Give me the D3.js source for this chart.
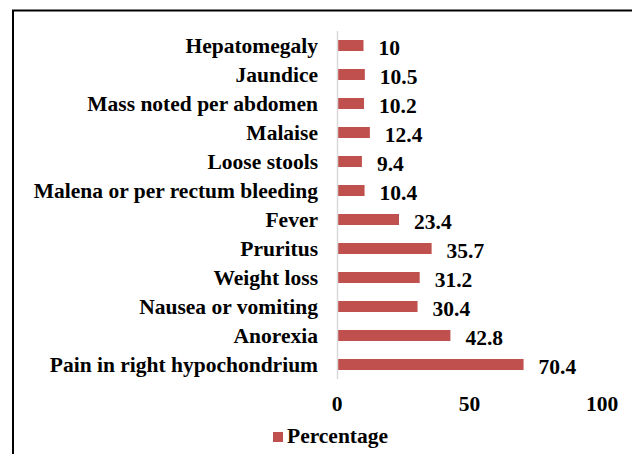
<!DOCTYPE html>
<html>
<head>
<meta charset="utf-8">
<script src="https://cdn.jsdelivr.net/npm/d3@7"></script>
<style>
  body { margin: 0; background: #fff; }
</style>
</head>
<body>
<svg id="chart"></svg>
<script>
const categories = [
  'Hepatomegaly', 'Jaundice', 'Mass noted per abdomen', 'Malaise', 'Loose stools',
  'Malena or per rectum bleeding', 'Fever', 'Pruritus', 'Weight loss',
  'Nausea or vomiting', 'Anorexia', 'Pain in right hypochondrium'
];
const percentage = [10, 10.5, 10.2, 12.4, 9.4, 10.4, 23.4, 35.7, 31.2, 30.4, 42.8, 70.4];
const xTicks = [0, 50, 100];
const seriesName = 'Percentage';

const width = 632, height = 454;
const barColor = '#c0504d';
const fontFamily = "'Liberation Serif', 'Times New Roman', Times, serif";
const fontSize = '21.5px';

const svg = d3.select('#chart')
  .attr('width', width)
  .attr('height', height);

// outer frame (top and left edges visible)
svg.append('line').attr('x1', 12).attr('x2', width).attr('y1', 10.5).attr('y2', 10.5)
  .attr('stroke', '#000').attr('stroke-width', 2);
svg.append('line').attr('x1', 13).attr('x2', 13).attr('y1', 10).attr('y2', height)
  .attr('stroke', '#000').attr('stroke-width', 2);

const x = d3.scaleLinear().domain([0, 100]).range([337, 602]);
const y = d3.scaleBand().domain(categories).range([31, 379]).paddingInner(0.62).paddingOuter(0.31);

// bars
svg.selectAll('.bar')
  .data(categories)
  .enter()
  .append('rect')
  .attr('class', 'bar')
  .attr('x', x(0))
  .attr('y', d => y(d))
  .attr('width', (d, i) => x(percentage[i]) - x(0))
  .attr('height', y.bandwidth())
  .attr('fill', barColor);

// vertical axis line
svg.append('line')
  .attr('x1', x(0) + 0.5).attr('x2', x(0) + 0.5)
  .attr('y1', 31).attr('y2', 379)
  .attr('stroke', '#d9d9d9').attr('stroke-width', 1.5);

const label = sel => sel
  .attr('font-family', fontFamily)
  .attr('font-weight', 'bold')
  .attr('fill', '#000')
  .style('font-size', fontSize);

// category labels
svg.selectAll('.cat')
  .data(categories)
  .enter()
  .append('text')
  .attr('class', 'cat')
  .attr('x', 318)
  .attr('y', d => y(d) + y.bandwidth() / 2 + 7)
  .attr('text-anchor', 'end')
  .call(label)
  .text(d => d);

// value labels
svg.selectAll('.val')
  .data(categories)
  .enter()
  .append('text')
  .attr('class', 'val')
  .attr('x', (d, i) => x(percentage[i]) + 15)
  .attr('y', d => y(d) + y.bandwidth() / 2 + 9)
  .call(label)
  .text((d, i) => percentage[i]);

// x tick labels
svg.selectAll('.tick')
  .data(xTicks)
  .enter()
  .append('text')
  .attr('class', 'tick')
  .attr('x', d => x(d))
  .attr('y', 411)
  .attr('text-anchor', 'middle')
  .call(label)
  .text(d => d);

// legend
svg.append('rect')
  .attr('x', 273).attr('y', 432).attr('width', 10).attr('height', 10)
  .attr('fill', barColor);
svg.append('text')
  .attr('x', 287).attr('y', 443)
  .call(label)
  .text(seriesName);
</script>
</body>
</html>
